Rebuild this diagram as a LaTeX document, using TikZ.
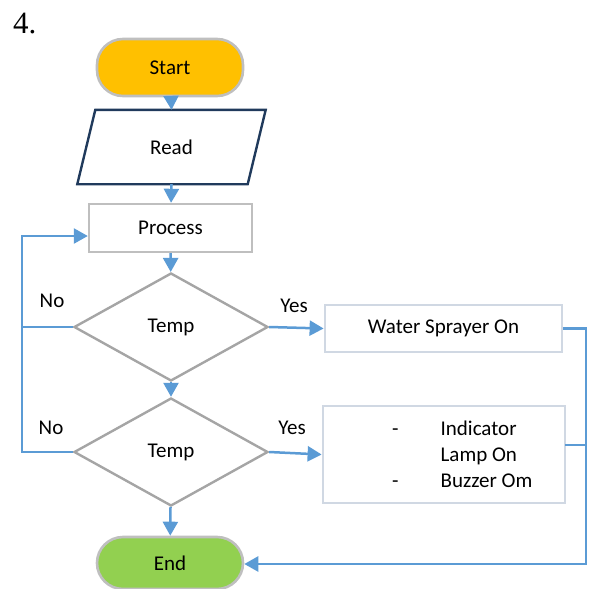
\documentclass[tikz,border=0pt]{standalone}
\usepackage{fontspec}
\setmainfont{Carlito}
\newfontfamily\numfont{Liberation Serif}
\usetikzlibrary{arrows.meta,shapes.geometric}

\definecolor{flowblue}{HTML}{5B9BD5}
\definecolor{edgegrey}{HTML}{BFBFBF}
\definecolor{diagrey}{HTML}{A5A5A5}
\definecolor{navy}{HTML}{203A5C}
\definecolor{paleblue}{HTML}{D0D8E3}
\definecolor{startfill}{HTML}{FFC000}
\definecolor{endfill}{HTML}{92D050}

\tikzset{
  txt/.style={font=\fontsize{21}{25}\selectfont, inner sep=0pt},
  terminal/.style={txt, draw=edgegrey, line width=2.6pt, rounded corners=26pt,
    minimum width=146pt},
  procbox/.style={txt, draw=edgegrey, line width=2.4pt},
  actbox/.style={txt, draw=paleblue, line width=2.8pt},
  decision/.style={txt, diamond, draw=diagrey, line width=2.4pt,
    minimum width=194pt, minimum height=108pt, aspect=1.8},
  iobox/.style={txt, minimum width=170pt, minimum height=74pt},
  flow/.style={draw=flowblue, line width=2.5pt,
    -{Triangle[length=14pt,width=15pt]}},
  wire/.style={draw=flowblue, line width=2.5pt},
  lbl/.style={txt}
}

\begin{document}
\begin{tikzpicture}[x=1pt,y=-1pt]
\useasboundingbox (0,0) rectangle (592,589);

% item number
\node[anchor=base west, inner sep=0pt, font=\numfont\fontsize{31}{35}\selectfont] (num) at (13,33) {4.};

% main column
\node[terminal, fill=startfill, minimum height=57pt] (start) at (170,67.5) {Start};
\node[iobox] (read) at (171.5,147) {Read};
\draw[navy, line width=2.4pt, line join=miter]
  ([xshift=9pt]read.north west) -- ([xshift=9pt]read.north east)
  -- ([xshift=-9pt]read.south east) -- ([xshift=-9pt]read.south west) -- cycle;
\node[procbox, minimum width=163pt, minimum height=48pt] (process) at (170.5,228) {Process};
\node[decision] (d1) at (171,327) {Temp};
\node[decision] (d2) at (171,452) {Temp};
\node[terminal, fill=endfill, minimum height=52pt] (end) at (170,563) {End};

% action boxes
\node[actbox, minimum width=237pt, minimum height=47pt] (water) at (443.5,328.5) {Water Sprayer On};
\node[actbox, minimum width=242pt, minimum height=97pt] (alarm) at (444,454.5) {};
\node[txt, anchor=north west] (alarmtxt) at (392,418) {%
  \begin{tabular}{@{}l@{\hspace{42pt}}l@{}}
  - & Indicator\\[1pt]
    & Lamp On\\[1pt]
  - & Buzzer Om
  \end{tabular}};

% main flow
\draw[flow] (start) -- (read.north);
\draw[flow] (read.south) -- (process);
\draw[flow] (process) -- (d1);
\draw[flow] (d1) -- (d2);
\draw[flow] (d2) -- (end);

% yes branches
\draw[flow] (d1.east) -- (water.west);
\draw[flow] (d2.east) -- (alarm.west);
\node[lbl] (yes1) at (294,306) {Yes};
\node[lbl] (yes2) at (292,428) {Yes};

% no branches loop back to Process
\coordinate (lbot) at (22,452);
\coordinate (ltop) at (22,236);
\draw[wire] (d1.west) -- (d1.west -| lbot);
\draw[flow] (d2.west) -- (lbot) -- (ltop) -- (ltop -| process.west);
\node[lbl] (no1) at (52,301) {No};
\node[lbl] (no2) at (51,428) {No};

% actions rejoin at End
\coordinate (rbot) at (586,564);
\coordinate (alarmout) at (565,445);
\draw[flow] (water.east) -| (rbot) -- (rbot -| end.east);
\draw[wire] (alarmout) -- (alarmout -| rbot);
\end{tikzpicture}
\end{document}
